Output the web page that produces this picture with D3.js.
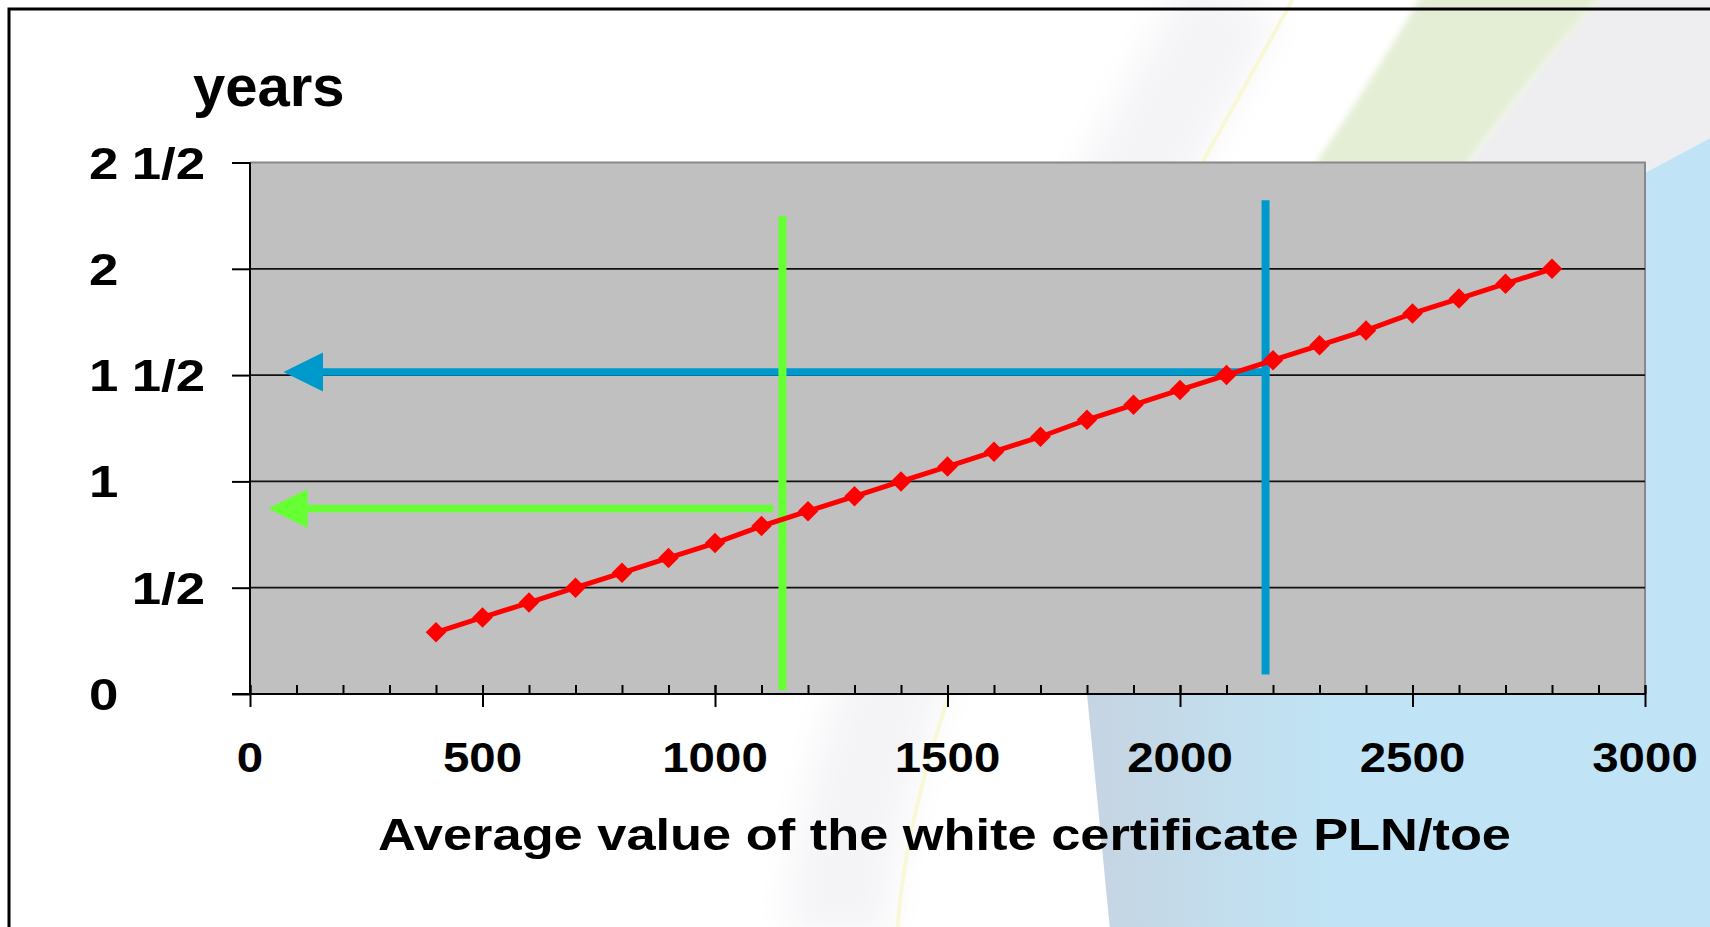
<!DOCTYPE html>
<html><head><meta charset="utf-8">
<script src="https://cdn.jsdelivr.net/npm/d3@7"></script>
<style>
body{margin:0;background:#fff;overflow:hidden}
svg{display:block}
text{font-family:"Liberation Sans",Arial,Helvetica,sans-serif;font-weight:bold;fill:#000}
</style>
</head><body>
<svg id="chart" width="1710" height="927"></svg>
<script>
// ---- data ----
const certValues   = [400,500,600,700,800,900,1000,1100,1200,1300,1400,1500,1600,1700,1800,1900,2000,2100,2200,2300,2400,2500,2600,2700,2800];
const paybackYears = [0.29,0.36,0.43,0.50,0.57,0.64,0.71,0.79,0.86,0.93,1.00,1.07,1.14,1.21,1.29,1.36,1.43,1.50,1.57,1.64,1.71,1.79,1.86,1.93,2.00];
const xTicks      = [0,500,1000,1500,2000,2500,3000];
const xTickLabels = ["0","500","1000","1500","2000","2500","3000"];
const yTicks      = [0,0.5,1,1.5,2,2.5];
const yTickLabels = ["0","1/2","1","1 1/2","2","2 1/2"];
const yTitle = "years";
const xTitle = "Average value of the white certificate PLN/toe";
// reading guides (data units)
const guideNames  = ["blue","green"];
const guideX      = [2184, 1145];   // vertical line position
const guideTop    = [2.323, 2.248];
const guideBottom = [0.092, 0.019];
const guideLevel  = [1.514, 0.873]; // horizontal arrow level
const guideFromX  = [2184, 1125];   // right end of the horizontal arrow
const guideTipX   = [72, 39];       // arrow tip

// ---- styles ----
const guideColor = {blue:"#0099cc", green:"#66ff33"};
const W = 1710, H = 927;
const svg = d3.select("#chart");
const defs = svg.append("defs");

// ---- background ----
const blurS = defs.append("filter").attr("id","blurS").attr("x","-20%").attr("y","-20%").attr("width","140%").attr("height","140%");
blurS.append("feGaussianBlur").attr("stdDeviation",3);
const blurL = defs.append("filter").attr("id","blurL").attr("x","-50%").attr("y","-20%").attr("width","200%").attr("height","140%");
blurL.append("feGaussianBlur").attr("stdDeviation",18);
const bg = defs.append("linearGradient").attr("id","blueGrad").attr("gradientUnits","userSpaceOnUse")
  .attr("x1",1085).attr("y1",0).attr("x2",1330).attr("y2",0);
bg.append("stop").attr("offset",0).attr("stop-color","#c6d4e2");
bg.append("stop").attr("offset",1).attr("stop-color","#c0e4f5");

svg.append("rect").attr("width",W).attr("height",H).attr("fill","#ffffff");
const yellowPath = "M1295,-5 C1157,250 915,640 897,935";
svg.append("path").attr("d",yellowPath).attr("transform","translate(-60,0)")
  .attr("fill","none").attr("stroke","#f4f4f7").attr("stroke-width",100).attr("filter","url(#blurL)");
// gray region right of green band
svg.append("path").attr("d","M1605,-10 L1720,-10 L1720,420 L1300,420 L1470,160 Q1535,70 1605,-10 Z")
  .attr("fill","#eeeef0").attr("filter","url(#blurS)");
// green band
svg.append("path").attr("d","M1425,-10 Q1372,80 1318,160 L1220,340 L1350,340 L1470,160 Q1535,70 1607,-10 Z")
  .attr("fill","#e4eed5").attr("filter","url(#blurS)");
// light blue shape
svg.append("path").attr("d","M1111,940 L1087,694 C1070,450 1280,250 1645,173 L1720,133 L1720,940 Z")
  .attr("fill","url(#blueGrad)");
// thin yellow curve
svg.append("path").attr("d",yellowPath).attr("fill","none").attr("stroke","#f8f8d6").attr("stroke-width",4);

// frame
svg.append("path").attr("d","M9,940 L9,9 L1720,9").attr("fill","none").attr("stroke","#000").attr("stroke-width",3);

// ---- scales ----
const x = d3.scaleLinear().domain([0,3000]).range([250,1645]);
const y = d3.scaleLinear().domain([0,2.5]).range([694,162.5]);

// plot area
svg.append("rect").attr("x",x(0)).attr("y",y(2.5)).attr("width",x(3000)-x(0)).attr("height",y(0)-y(2.5)).attr("fill","#c0c0c0");
svg.append("path").attr("d",`M${x(0)},${y(2.5)} L${x(3000)},${y(2.5)} L${x(3000)},${y(0)}`)
  .attr("fill","none").attr("stroke","#888").attr("stroke-width",2);

// gridlines
svg.append("g").selectAll("line").data(yTicks.filter(t=>t>0 && t<2.5)).join("line")
  .attr("x1",x(0)).attr("x2",x(3000)).attr("y1",d=>y(d)).attr("y2",d=>y(d))
  .attr("stroke","#111").attr("stroke-width",1.8);

// y axis ticks
const yAx = svg.append("g").attr("transform",`translate(${x(0)},0)`)
  .call(d3.axisLeft(y).tickValues(yTicks).tickSize(18).tickFormat(""));
yAx.select(".domain").remove();
yAx.selectAll(".tick line").attr("stroke","#000").attr("stroke-width",2);

// x axis minor ticks (inside) and major ticks (crossing)
const xMinor = svg.append("g").attr("transform",`translate(0,${y(0)})`)
  .call(d3.axisBottom(x).ticks(30).tickSize(-9).tickFormat(""));
xMinor.select(".domain").remove();
xMinor.selectAll(".tick line").attr("stroke","#000").attr("stroke-width",2);
const xMajor = svg.append("g").attr("transform",`translate(0,${y(0)})`)
  .call(d3.axisBottom(x).tickValues(xTicks).tickSize(13).tickFormat(""));
xMajor.select(".domain").remove();
xMajor.selectAll(".tick line").attr("stroke","#000").attr("stroke-width",2).attr("y1",-9);

// axis lines
svg.append("line").attr("x1",x(0)).attr("x2",x(0)).attr("y1",y(2.5)).attr("y2",y(0)).attr("stroke","#000").attr("stroke-width",2);
svg.append("line").attr("x1",x(0)-18).attr("x2",x(3000)).attr("y1",y(0)).attr("y2",y(0)).attr("stroke","#000").attr("stroke-width",2);

// y tick labels: integer part left-aligned, fraction part right-aligned
const yl = svg.append("g").selectAll("g").data(yTicks).join("g");
yl.each(function(t,i){
  const lab = yTickLabels[i];
  const parts = lab.split(" ");
  let intPart = null, frac = null;
  parts.forEach(p => { if (p.includes("/")) frac = p; else intPart = p; });
  const g = d3.select(this);
  if (intPart !== null) {
    g.append("text").attr("transform",`translate(89,${y(t)+16}) scale(1.2,1)`)
      .attr("font-size",44).attr("text-anchor","start").text(intPart);
  }
  if (frac !== null) {
    g.append("text").attr("transform",`translate(205,${y(t)+16}) scale(1.2,1)`)
      .attr("font-size",44).attr("text-anchor","end").text(frac);
  }
});

// x tick labels
svg.append("g").selectAll("text").data(xTicks).join("text")
  .attr("transform",(d)=>`translate(${x(d)},772) scale(1.13,1)`)
  .attr("font-size",42).attr("text-anchor","middle")
  .text((d,i)=>xTickLabels[i]);

// titles
svg.append("text").attr("x",193).attr("y",106).attr("font-size",58).text(yTitle);
svg.append("text").attr("x",378).attr("y",850).attr("font-size",45)
  .attr("textLength",1133).attr("lengthAdjust","spacingAndGlyphs").text(xTitle);

// ---- reading guides ----
const headLen = 39.5, headHalf = 19.5;
guideNames.forEach((name,i)=>{
  const c = guideColor[name];
  const gx = x(guideX[i]);
  svg.append("line").attr("x1",gx).attr("x2",gx).attr("y1",y(guideTop[i])).attr("y2",y(guideBottom[i]))
    .attr("stroke",c).attr("stroke-width",8);
  const ly = y(guideLevel[i]);
  const tip = x(guideTipX[i]);
  const fromX = name==="blue" ? x(guideFromX[i]) + 4 : x(guideFromX[i]);
  svg.append("line").attr("x1",fromX).attr("x2",tip+headLen-1).attr("y1",ly).attr("y2",ly)
    .attr("stroke",c).attr("stroke-width",7.5);
  svg.append("path").attr("d",`M${tip},${ly} L${tip+headLen},${ly-headHalf} L${tip+headLen},${ly+headHalf} Z`)
    .attr("fill",c);
});

// ---- series ----
const pts = certValues.map((v,i)=>[v,paybackYears[i]]);
svg.append("path").datum(pts)
  .attr("d",d3.line().x(d=>x(d[0])).y(d=>y(d[1])))
  .attr("fill","none").attr("stroke","#ff0000").attr("stroke-width",5);
svg.append("g").selectAll("path").data(pts).join("path")
  .attr("d",d3.symbol(d3.symbolSquare,210))
  .attr("transform",d=>`translate(${x(d[0])},${y(d[1])}) rotate(45)`)
  .attr("fill","#ff0000");
</script>
</body></html>
